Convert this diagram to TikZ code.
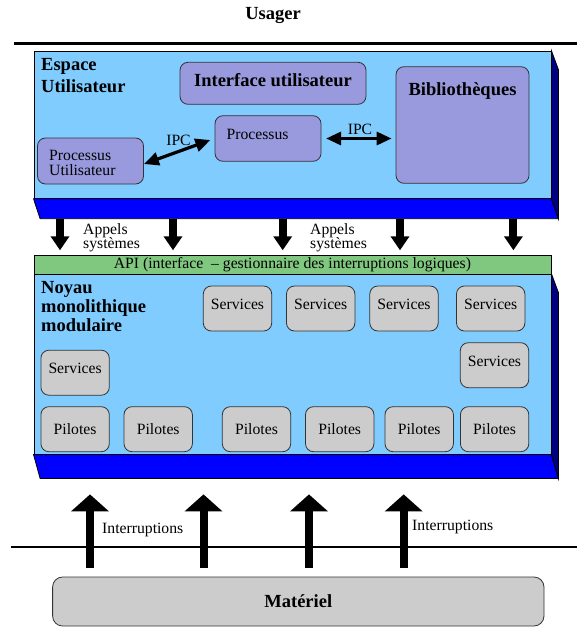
\documentclass[tikz,border=0pt]{standalone}
\usepackage{fontspec}
\setmainfont{Liberation Serif}
\usetikzlibrary{arrows.meta}

\definecolor{face}{RGB}{128,204,255}
\definecolor{deep}{RGB}{0,0,255}
\definecolor{navy}{RGB}{0,0,128}
\definecolor{apigreen}{RGB}{128,200,128}
\definecolor{lilac}{RGB}{153,153,221}
\definecolor{silver}{RGB}{204,204,204}

\tikzset{
  reg/.style={font=\fontsize{15.7}{14.3}\selectfont},
  big/.style={font=\fontsize{18.5}{21.7}\selectfont\bfseries},
  front/.style={draw=black, fill=face, line width=0.8pt, minimum width=517.1pt, inner sep=0pt},
  slab/.style={draw=black, fill=deep, line width=0.8pt},
  side/.style={draw=black, fill=navy, line width=0.8pt},
  ubox/.style={draw=black!80, fill=lilac, rounded corners=8pt, line width=0.8pt, inner sep=0pt},
  kbox/.style={draw=black!80, fill=silver, rounded corners=8pt, line width=0.8pt,
    minimum width=68.4pt, minimum height=45pt, inner sep=0pt, reg},
  svc/.style={kbox, text height=10.4pt, text depth=8pt},
  ipc/.style={line width=3.2pt, {Triangle[width=13pt,length=15pt]}-{Triangle[width=13pt,length=15pt]}},
  sysarr/.style={line width=8pt, -{Triangle[width=18pt,length=14pt]}},
  irqarr/.style={line width=8pt, -{Triangle[width=37pt,length=17pt]}},
}

\begin{document}
\begin{tikzpicture}[x=1pt, y=-1pt]
\useasboundingbox (0,0) rectangle (577,629);

% user / hardware boundaries
\node[big] (usager) at (273,15) {Usager};
\draw[line width=3pt] (14,43.5) -- (577,43.5);
\draw[line width=2pt] (11,547) -- (577,547);

% ---------- user space slab ----------
\node[front, minimum height=147.3pt] (user) at (292.45,124.65) {};
\draw[slab] (user.south west) -- (user.south east) -- ++(7,20)
  -- ([shift={(6.6,20)}]user.south west) -- cycle;
\draw[side] (user.north east) -- ++(7,19) -- ([shift={(7,20)}]user.south east)
  -- (user.south east) -- cycle;
\coordinate (ubot) at ([shift={(0,20)}]user.south);

\node[big, align=left, anchor=north west, inner sep=0pt] (espace) at (41,58.5) {Espace\\Utilisateur};

\node[ubox, big, minimum width=186pt, minimum height=42pt, text height=12.3pt, text depth=6.6pt]
  (ui) at (273,83.3) {Interface utilisateur};
\node[ubox, minimum width=133pt, minimum height=116.6pt] (bib) at (462.5,125) {};
\node[big] (bibtext) at (462.5,91) {Bibliothèques};
\node[ubox, minimum width=106pt, minimum height=45.6pt] (proc) at (268,138.5) {};
\node[reg] (proctext) at (257.6,134) {Processus};
\node[ubox, minimum width=106pt, minimum height=46pt] (pu) at (90.5,161) {};
\node[reg, align=left, anchor=north west, inner sep=0pt] (putext) at (49,150.5) {Processus\\Utilisateur};

% inter-process communication
\draw[ipc, shorten >=4.5pt] ([yshift=-3pt]pu.east) -- (proc.west);
\node[reg] (ipcl) at (178.5,140) {IPC};
\draw[ipc, shorten <=4.7pt, shorten >=4pt] (proc.east) -- (proc.east -| bib.west);
\node[reg] (ipcr) at (360,129.3) {IPC};

% ---------- kernel slab ----------
\node[draw=black, fill=apigreen, line width=0.8pt, minimum width=517.1pt, minimum height=18.3pt,
  inner sep=0pt, reg] (api) at (292.45,264.85) {API (interface~ – gestionnaire des interruptions logiques)};
\node[front, minimum height=180pt] (kern) at (292.45,364) {};
\draw[slab] (kern.south west) -- (kern.south east) -- ++(7,24)
  -- ([shift={(6.6,24)}]kern.south west) -- cycle;
\draw[side] (kern.north east) -- ++(7,19) -- ([shift={(7,24)}]kern.south east)
  -- (kern.south east) -- cycle;
\coordinate (kbot) at ([shift={(0,24)}]kern.south);
\coordinate (apitop) at ([shift={(0,-5)}]api.north);

\node[align=left, anchor=north west, inner sep=0pt, font=\fontsize{18.5}{19}\selectfont\bfseries]
  (noyau) at (41,281) {Noyau\\monolithique\\modulaire};

\node[svc] (s1) at (237.5,308.5) {Services};
\node[svc] (s2) at (320.7,308.5) {Services};
\node[svc] (s3) at (404,308.5) {Services};
\node[svc] (s4) at (490.7,308.5) {Services};
\node[svc] (s5) at (494.5,365.2) {Services};
\node[svc] (s6) at (75.1,372.7) {Services};

\node[kbox] (p1) at (75.1,429.2) {Pilotes};
\node[kbox] (p2) at (158.2,429.2) {Pilotes};
\node[kbox] (p3) at (256.5,429.2) {Pilotes};
\node[kbox] (p4) at (339.7,429.2) {Pilotes};
\node[kbox] (p5) at (419.2,429.2) {Pilotes};
\node[kbox] (p6) at (494.6,429.2) {Pilotes};

% system calls
\foreach \x in {60,173,282.7,400,513.4}
  \draw[sysarr] (ubot -| \x,0) -- (apitop -| \x,0);
\node[reg, align=left, anchor=north west, inner sep=0pt] (appels1) at (83,223) {Appels\\systèmes};
\node[reg, align=left, anchor=north west, inner sep=0pt] (appels2) at (310,223) {Appels\\systèmes};

% ---------- hardware ----------
\node[draw=black!80, fill=silver, rounded corners=10pt, line width=0.8pt,
  minimum width=491.4pt, minimum height=49pt, big] (mat) at (298.3,601.5) {Matériel};
\coordinate (mattop) at ([shift={(0,-9)}]mat.north);
\coordinate (irqtip) at ([shift={(0,16)}]kbot);

\foreach \x in {90,203.5,309,403.7}
  \draw[irqarr] (mattop -| \x,0) -- (irqtip -| \x,0);
\node[reg, anchor=west, inner sep=0pt] (irq1) at (102,530) {Interruptions};
\node[reg, anchor=west, inner sep=0pt] (irq2) at (412,527) {Interruptions};
\end{tikzpicture}
\end{document}
